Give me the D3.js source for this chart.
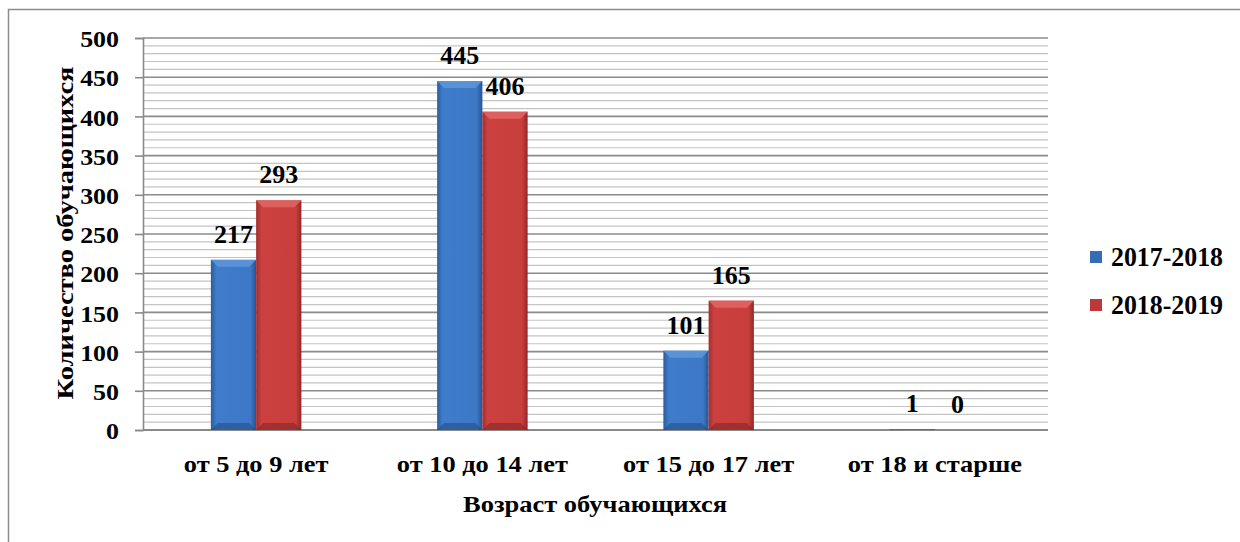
<!DOCTYPE html>
<html><head><meta charset="utf-8">
<script src="https://cdn.jsdelivr.net/npm/d3@7"></script>
<style>body{margin:0;background:#fff;}svg{display:block;}</style>
</head><body><svg id="c" width="1240" height="542" font-family="Liberation Serif" font-weight="bold"></svg>
<script>
const categories = ["от 5 до 9 лет", "от 10 до 14 лет", "от 15 до 17 лет", "от 18 и старше"];
const seriesNames = ["2017-2018", "2018-2019"];
const values2017 = [217, 445, 101, 1];
const values2018 = [293, 406, 165, 0];
const yTicks = [0, 50, 100, 150, 200, 250, 300, 350, 400, 450, 500];
const yTitle = "Количество обучающихся";
const xTitle = "Возраст обучающихся";

const FONT = "Liberation Serif";
function styleText(sel, size){
  return sel.attr("font-family",FONT).attr("font-weight","bold").attr("font-size",size).attr("fill","#000");
}
function stretch(sel, k){
  sel.each(function(){
    const w = this.getComputedTextLength();
    d3.select(this).attr("textLength", w*k).attr("lengthAdjust","spacingAndGlyphs");
  });
}
function fitTo(sel, len){
  sel.attr("textLength", len).attr("lengthAdjust","spacingAndGlyphs");
}

const svg = d3.select("#c");
const defs = svg.append("defs");
const palettes = [
  {id:"gB", stops:["#285c9f","#3f7ccb","#3c78c6","#245392"], top:"#5f97db", bottom:"#1f467a", legend:"#356db5"},
  {id:"gR", stops:["#a52d2d","#cc4140","#c73e3c","#922727"], top:"#e06664", bottom:"#7a1f1f", legend:"#bd3838"}
];
palettes.forEach(p=>{
  const g = defs.append("linearGradient").attr("id",p.id).attr("x1","0").attr("x2","1").attr("y1","0").attr("y2","0");
  [0,0.12,0.88,1].forEach((o,i)=>g.append("stop").attr("offset",o).attr("stop-color",p.stops[i]));
});

// outer border
svg.append("rect").attr("x",8.5).attr("y",9.5).attr("width",1250).attr("height",560)
  .attr("fill","none").attr("stroke","#8c8c8c").attr("stroke-width",1.5);

const x0 = 143, x1 = 1048;
const y = d3.scaleLinear().domain([0,500]).range([430,38]);
const x = d3.scaleBand().domain(categories).range([x0,x1]).paddingInner(0.6).paddingOuter(0.3);
const xs = d3.scaleBand().domain(seriesNames).range([0,x.bandwidth()]);

// gridlines
const minor = d3.range(10,501,10).filter(v=>v%50!==0);
svg.append("g").selectAll("line").data(minor).join("line")
  .attr("x1",x0).attr("x2",x1).attr("y1",d=>y(d)).attr("y2",d=>y(d))
  .attr("stroke","#c4c4c4").attr("stroke-width",1.2);
svg.append("g").selectAll("line").data(yTicks.filter(v=>v>0)).join("line")
  .attr("x1",x0).attr("x2",x1).attr("y1",d=>y(d)).attr("y2",d=>y(d))
  .attr("stroke","#8a8a8a").attr("stroke-width",1.6);

// y axis
const yAxis = d3.axisLeft(y).tickValues(yTicks).tickSize(8).tickPadding(16);
const ga = svg.append("g").attr("transform",`translate(${x0},0)`).call(yAxis);
ga.attr("font-family",FONT);
ga.select(".domain").attr("stroke","#8a8a8a").attr("stroke-width",1.6);
ga.selectAll(".tick line").attr("stroke","#8a8a8a").attr("stroke-width",1.6);
const tickTexts = styleText(ga.selectAll(".tick text"), 24).attr("dy","0.36em").attr("x",-24);
stretch(tickTexts, 1.08);
// x baseline
svg.append("line").attr("x1",x0).attr("x2",x1).attr("y1",y(0)).attr("y2",y(0)).attr("stroke","#8a8a8a").attr("stroke-width",1.8);

// bars
const data = categories.map((c,i)=>({c, v:[values2017[i], values2018[i]]}));
const gBars = svg.append("g");
data.forEach(d=>{
  d.v.forEach((v,si)=>{
    const p = palettes[si];
    const bx = x(d.c)+xs(seriesNames[si]);
    const bw = xs.bandwidth();
    const by = y(v), bh = y(0)-y(v);
    if (bh <= 0) return;
    gBars.append("rect").attr("x",bx).attr("y",by).attr("width",bw).attr("height",bh).attr("fill",`url(#${p.id})`);
    const bv = Math.min(7, bh/2);
    gBars.append("polygon").attr("points",[[bx,by],[bx+bw,by],[bx+bw-bv,by+bv],[bx+bv,by+bv]].map(q=>q.join(",")).join(" "))
      .attr("fill",p.top).attr("opacity",0.85);
    gBars.append("polygon").attr("points",[[bx,by+bh],[bx+bw,by+bh],[bx+bw-bv,by+bh-bv],[bx+bv,by+bh-bv]].map(q=>q.join(",")).join(" "))
      .attr("fill",p.bottom).attr("opacity",0.5);
  });
});

// data labels
const gLab = svg.append("g");
data.forEach(d=>{
  d.v.forEach((v,si)=>{
    styleText(gLab.append("text"), 26)
      .attr("x",x(d.c)+xs(seriesNames[si])+xs.bandwidth()/2).attr("y",y(v)-17)
      .attr("text-anchor","middle").text(v);
  });
});

// category labels
const cl = styleText(svg.append("g").selectAll("text").data(categories).join("text"), 24)
  .attr("x",d=>x(d)+x.bandwidth()/2).attr("y",472).attr("text-anchor","middle").text(d=>d);
stretch(cl, 1.1);

// axis titles
const xt = styleText(svg.append("text"), 24).attr("x",595).attr("y",512).attr("text-anchor","middle").text(xTitle);
fitTo(xt, 264);
const yt = styleText(svg.append("text"), 24).attr("transform","translate(73,233) rotate(-90)").attr("text-anchor","middle").text(yTitle);
fitTo(yt, 333);

// legend
const lg = svg.append("g");
seriesNames.forEach((s,i)=>{
  const ly = 257 + i*48;
  lg.append("rect").attr("x",1090).attr("y",ly-6).attr("width",12).attr("height",12).attr("fill",palettes[i].legend);
  const t = styleText(lg.append("text"), 27).attr("x",1111).attr("y",ly+9).text(s);
  fitTo(t, 112);
});
</script></body></html>
